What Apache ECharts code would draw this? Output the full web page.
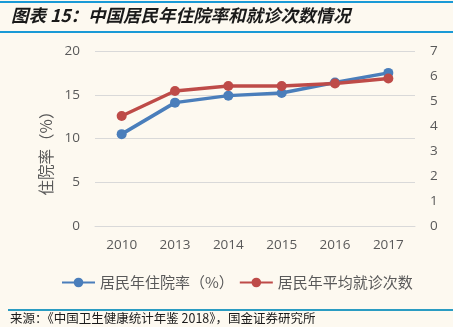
<!DOCTYPE html>
<html><head><meta charset="utf-8">
<script src="https://cdn.jsdelivr.net/npm/echarts@6/dist/echarts.min.js"></script>
<style>html,body{margin:0;padding:0;background:#fdf9f0;}#c{width:453px;height:327px;}</style>
</head><body><div id="c"></div>
<script>
const years = ['2010','2013','2014','2015','2016','2017'];
const hospRate = [10.5, 14.1, 14.9, 15.2, 16.4, 17.5];
const visits = [4.4, 5.4, 5.6, 5.6, 5.7, 5.9];
const leftTicks = {min:0, max:20, interval:5};
const rightTicks = {min:0, max:7, interval:1};
const seriesNames = ['居民年住院率（%）','居民年平均就诊次数'];
const titleText = '图表 15：中国居民年住院率和就诊次数情况';
const sourceText = '来源：《中国卫生健康统计年鉴 2018》，国金证券研究所';

const chart = echarts.init(document.getElementById('c'));
const labelStyle = {color:'#595959', fontSize:13.5, fontFamily:'Open Sans, Noto Sans CJK SC'};
chart.setOption({
  backgroundColor:'#fdf9f0',
  animation:false,
  graphic:[
    {type:'rect', shape:{x:0,y:1,width:453,height:2}, style:{fill:'#1a9ad6'}},
    {type:'text', left:11, top:7, style:{text:titleText, fill:'#1a1a1a', font:'italic bold 17.5px "Noto Sans CJK SC"'}},
    {type:'rect', shape:{x:0,y:31,width:453,height:2}, style:{fill:'#1a9ad6'}},
    {type:'rect', shape:{x:8,y:309,width:445,height:2}, style:{fill:'#2a9cc2'}},
    {type:'text', left:10, top:312, style:{text:sourceText, fill:'#1a1a1a', font:'12.5px "Noto Sans CJK SC"'}}
  ],
  grid:{left:95, right:38, top:51, bottom:101},
  legend:{
    left:56, top:270, itemWidth:33, itemHeight:12, itemGap:5,
    textStyle:{color:'#595959', fontSize:15, fontFamily:'Noto Sans CJK SC'},
    data:seriesNames
  },
  xAxis:{
    type:'category', data:years, boundaryGap:true,
    axisLine:{show:true, lineStyle:{color:'#d9d9d9'}},
    axisTick:{show:false},
    axisLabel:Object.assign({margin:12}, labelStyle)
  },
  yAxis:[
    {type:'value', min:leftTicks.min, max:leftTicks.max, interval:leftTicks.interval,
     name:'住院率（%）', nameLocation:'middle', nameGap:40, nameRotate:90,
     nameTextStyle:{color:'#595959', fontSize:15.5, fontFamily:'Noto Sans CJK SC', padding:[0,22,0,0]},
     axisLine:{show:false}, axisTick:{show:false},
     splitLine:{lineStyle:{color:'#d9d9d9', width:1}},
     axisLabel:Object.assign({margin:15}, labelStyle)},
    {type:'value', min:rightTicks.min, max:rightTicks.max, interval:rightTicks.interval,
     position:'right',
     axisLine:{show:false}, axisTick:{show:false}, splitLine:{show:false},
     axisLabel:Object.assign({margin:15}, labelStyle)}
  ],
  series:[
    {name:seriesNames[0], type:'line', yAxisIndex:0, data:hospRate,
     symbol:'circle', symbolSize:10, lineStyle:{width:3.5, color:'#4a7ebb'},
     itemStyle:{color:'#4a7ebb'}},
    {name:seriesNames[1], type:'line', yAxisIndex:1, data:visits,
     symbol:'circle', symbolSize:10, lineStyle:{width:3.5, color:'#be4b48'},
     itemStyle:{color:'#be4b48'}}
  ]
});
</script></body></html>
